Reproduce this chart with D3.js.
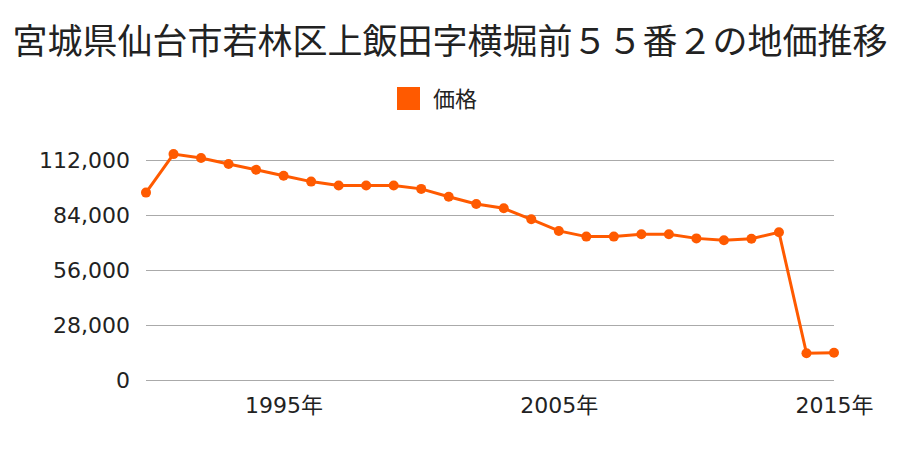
<!DOCTYPE html>
<html><head><meta charset="utf-8">
<script src="https://cdn.jsdelivr.net/npm/d3@7"></script>
<style>body{margin:0;background:#fff}svg{display:block;font-family:"Noto Sans CJK JP","Noto Sans",sans-serif}</style>
</head><body><svg id="c" width="900" height="450"></svg>
<script>
const title = "宮城県仙台市若林区上飯田字横堀前５５番２の地価推移";
const seriesName = "価格";
const years = [1990,1991,1992,1993,1994,1995,1996,1997,1998,1999,2000,2001,2002,2003,2004,2005,2006,2007,2008,2009,2010,2011,2012,2013,2014,2015];
const prices = [95400,115000,113000,110000,107000,104000,101000,99000,99000,99000,97300,93300,89600,87400,81800,75900,73000,73000,74200,74200,72100,71100,71900,75200,13600,13900];
const yTicks = [0,28000,56000,84000,112000];
const xTicks = [1995,2005,2015];
const color = "#ff5a00";
const numFont = "'DejaVu Sans','Noto Sans CJK JP',sans-serif";

const svg = d3.select("#c");
const x = d3.scaleLinear().domain([1990,2015]).range([146,834]);
const y = d3.scaleLinear().domain([0,112000]).range([380,160]);

svg.append("text").attr("x",450).attr("y",54).attr("text-anchor","middle")
  .attr("font-size",35).attr("fill","#222").text(title);

svg.append("rect").attr("x",397).attr("y",87).attr("width",23).attr("height",23).attr("fill",color);
svg.append("text").attr("x",433).attr("y",107).attr("font-size",22).attr("fill","#222").text(seriesName);

const gy = svg.append("g").attr("transform","translate(834,0)")
  .call(d3.axisLeft(y).tickValues(yTicks).tickSize(688).tickPadding(16).tickFormat(d3.format(",")));
gy.select(".domain").remove();
gy.selectAll(".tick line").attr("stroke","#aaa");
gy.selectAll(".tick text").attr("font-size",22).attr("fill","#222").attr("font-family",numFont);

const gx = svg.append("g").attr("transform","translate(0,380)")
  .call(d3.axisBottom(x).tickValues(xTicks).tickSize(0).tickPadding(17).tickFormat(d=>d+"年"));
gx.select(".domain").remove();
gx.selectAll(".tick text").attr("font-size",22).attr("fill","#222").attr("font-family",numFont);

const data = years.map((yr,i)=>({yr, v:prices[i]}));
svg.append("path").datum(data).attr("fill","none").attr("stroke",color).attr("stroke-width",3)
  .attr("d", d3.line().x(d=>x(d.yr)).y(d=>y(d.v)));
svg.selectAll("circle.pt").data(data).join("circle").attr("class","pt")
  .attr("cx",d=>x(d.yr)).attr("cy",d=>y(d.v)).attr("r",5).attr("fill",color);
</script></body></html>
